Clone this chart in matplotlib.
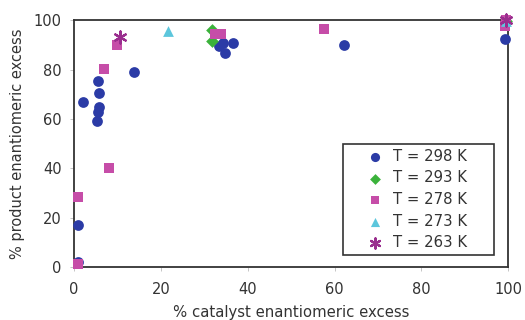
import matplotlib
matplotlib.use("Agg")
import matplotlib.pyplot as plt
from matplotlib.patches import Rectangle

# Data
x_298 = [1.0, 1.0, 2.1, 5.5, 5.8, 5.8, 5.5, 5.2, 13.7, 33.5, 34.2, 34.8, 36.7, 62.1, 99.3]
y_298 = [17, 2, 66.7, 75.3, 70.6, 64.9, 62.9, 59.1, 78.8, 89.5, 90.6, 86.5, 90.8, 89.9, 92.5]

x_293 = [31.7, 31.7, 99.5]
y_293 = [96.2, 91.5, 99.5]

x_278 = [1.0, 1.0, 8.1, 6.8, 10.0, 32.5, 33.8, 57.6, 99.3, 99.5]
y_278 = [1.2, 28.5, 40.2, 80.4, 90.1, 94.5, 94.5, 96.4, 97.5, 100]

x_273 = [21.7, 99.5]
y_273 = [95.5, 99.5]

x_263 = [10.6, 99.5]
y_263 = [93.2, 100]

labels = ["T = 298 K", "T = 293 K", "T = 278 K", "T = 273 K", "T = 263 K"]
x_ticks = [0, 20, 40, 60, 80, 100]
y_ticks = [0, 20, 40, 60, 80, 100]

fig = plt.figure(figsize=(5.25, 3.2), dpi=100)
ax = fig.add_axes([0.141, 0.166, 0.827, 0.771])

ax.scatter(x_298, y_298, marker="o", s=60, color="#2B3BA6", label=labels[0], zorder=3, clip_on=False, linewidths=0)
ax.scatter(x_293, y_293, marker="D", s=42, color="#3BB23B", label=labels[1], zorder=3, clip_on=False, linewidths=0)
ax.scatter(x_278, y_278, marker="s", s=55, color="#C64DA8", label=labels[2], zorder=4, clip_on=False, linewidths=0)
ax.scatter(x_273, y_273, marker="^", s=60, color="#5CC6DC", label=labels[3], zorder=4, clip_on=False, linewidths=0)
ax.scatter(x_263, y_263, marker=(6, 2, 0), s=75, color="#9A2E8E", label=labels[4], zorder=5, clip_on=False, linewidths=1.6)

ax.set_xlim(0, 100)
ax.set_ylim(0, 100)
ax.set_xticks(x_ticks)
ax.set_yticks(y_ticks)
ax.tick_params(direction="out", length=3, width=0.6, color="#bbbbbb", labelsize=10.5, labelcolor="#333333")
ax.tick_params(axis="y", pad=6)
ax.tick_params(axis="x", pad=8)

for sp in ax.spines.values():
    sp.set_color("#333333")
    sp.set_linewidth(1.3)

ax.set_xlabel("% catalyst enantiomeric excess", fontsize=10.7, color="#333333", labelpad=6)
ax.set_ylabel("% product enantiomeric excess", fontsize=10.5, color="#333333", labelpad=6)

leg = ax.legend(loc="center", bbox_to_anchor=(0.786, 0.273), fontsize=10.7, frameon=False,
                handletextpad=0.45, labelspacing=0.44, borderpad=0.3, handlelength=1.5, markerscale=0.85)
for t in leg.get_texts():
    t.set_color("#333333")

frame = Rectangle((0.620, 0.047), 0.348, 0.451, transform=ax.transAxes, fill=False,
                  edgecolor="#333333", linewidth=1.2, zorder=2)
ax.add_patch(frame)

fig.savefig("out.png", dpi=100)
